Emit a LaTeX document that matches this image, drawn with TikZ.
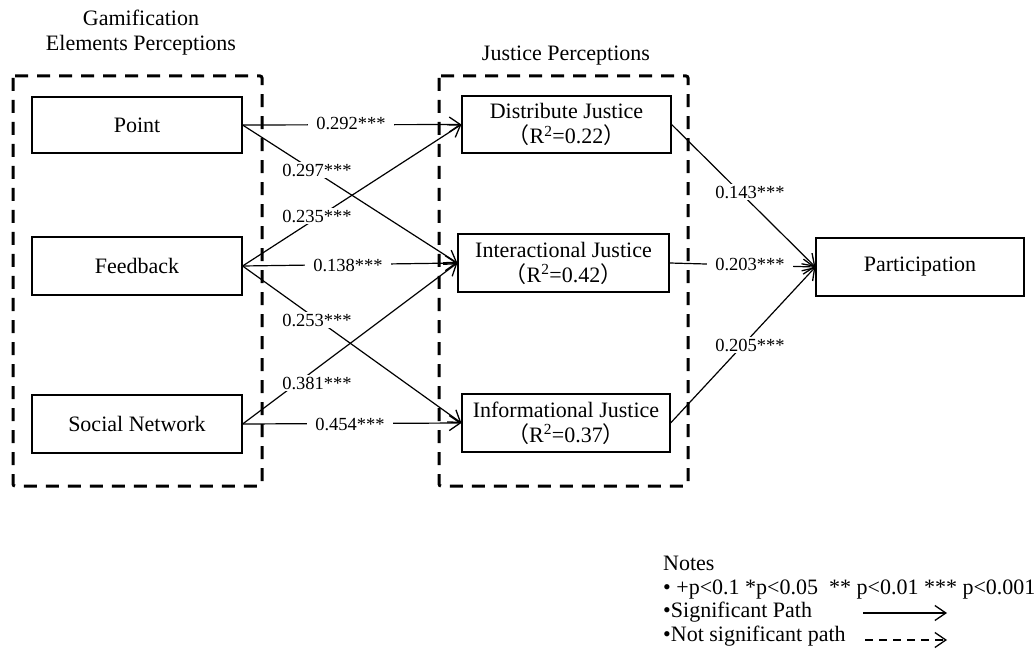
\documentclass[tikz,border=0pt]{standalone}
\usepackage{fontspec}
\setmainfont{Liberation Serif}
\newfontfamily\cjk{Noto Sans CJK SC}
\usetikzlibrary{arrows.meta}
\newcommand{\lp}{{\cjk （}}
\newcommand{\rp}{{\cjk ）}}
\begin{document}
\begin{tikzpicture}[x=1pt,y=-1pt,
  every node/.style={font=\fontsize{22}{25}\selectfont},
  box/.style={draw,line width=1.2pt,minimum width=209pt,minimum height=57pt,align=center,inner sep=0pt},
  group/.style={draw,line width=3pt,dash pattern=on 13pt off 9pt,rounded corners=2pt},
  path/.style={line width=1.2pt,-{Straight Barb[length=11pt,width=15pt,line width=1.3pt]}},
  lbl/.style={fill=white,inner xsep=8pt,inner ysep=2pt,font=\fontsize{18.5}{20}\selectfont},
  ttl/.style={align=center,font=\fontsize{22}{25}\selectfont},
  note/.style={anchor=base west,inner sep=0pt}]
\useasboundingbox (0,0) rectangle (1034,655);
% group frames
\draw[group] (13,76) rectangle (262,486);
\draw[group] (439,76) rectangle (688,486);
\node[ttl] (gtitle) at (141,33) {Gamification\\Elements Perceptions};
\node[ttl] (jtitle) at (566,56) {Justice Perceptions};
% boxes
\node[box,minimum width=210pt,minimum height=56pt] (point) at (137,125) {Point};
\node[box,minimum width=210pt,minimum height=58pt] (feed) at (137,266) {Feedback};
\node[box,minimum width=210pt,minimum height=58pt] (social) at (137,424) {Social Network};
\node[box,minimum width=209pt,minimum height=57pt] (dist) at (566.5,124.5) {Distribute Justice\\\lp R\textsuperscript{2}=0.22\rp};
\node[box,minimum width=211pt,minimum height=58pt] (inter) at (563.5,263) {Interactional Justice\\\lp R\textsuperscript{2}=0.42\rp};
\node[box,minimum width=208pt,minimum height=58pt] (info) at (566,423) {Informational Justice\\\lp R\textsuperscript{2}=0.37\rp};
\node[box,minimum width=208pt,minimum height=58pt] (part) at (920,267) {Participation};
% paths
\draw[path] (point.east) -- (dist.west);
\draw[path] (point.east) -- (inter.west);
\draw[path] (feed.east) -- (dist.west);
\draw[path] (feed.east) -- (inter.west);
\draw[path] (feed.east) -- (info.west);
\draw[path] (social.east) -- (inter.west);
\draw[path] (social.east) -- (info.west);
\draw[path] (dist.east) -- (part.west);
\draw[path] (inter.east) -- (part.west);
\draw[path] (info.east) -- (part.west);
% labels
\node[lbl] (l1) at (351,123) {0.292***};
\node[lbl] (l2) at (317,170) {0.297***};
\node[lbl] (l3) at (317,216) {0.235***};
\node[lbl] (l4) at (348,265) {0.138***};
\node[lbl] (l5) at (317,320) {0.253***};
\node[lbl] (l6) at (317,383) {0.381***};
\node[lbl] (l7) at (350,424) {0.454***};
\node[lbl] (l8) at (750,192) {0.143***};
\node[lbl] (l9) at (750,264) {0.203***};
\node[lbl] (l10) at (750,345) {0.205***};
% notes
\node[note] (n1) at (663,570) {Notes};
\node[note] (n2) at (663,594) {• +p<0.1 *p<0.05 \ ** p<0.01 *** p<0.001};
\node[note] (n3) at (663,617) {•Significant Path};
\node[note] (n4) at (663,641) {•Not significant path};
\coordinate (s1) at (863,613);
\coordinate (s2) at (947,613);
\coordinate (d1) at (865,640);
\coordinate (d2) at (947,640);
\draw[path] (s1) -- (s2);
\draw[path,dash pattern=on 8pt off 6pt] (d1) -- (d2);
\end{tikzpicture}
\end{document}
